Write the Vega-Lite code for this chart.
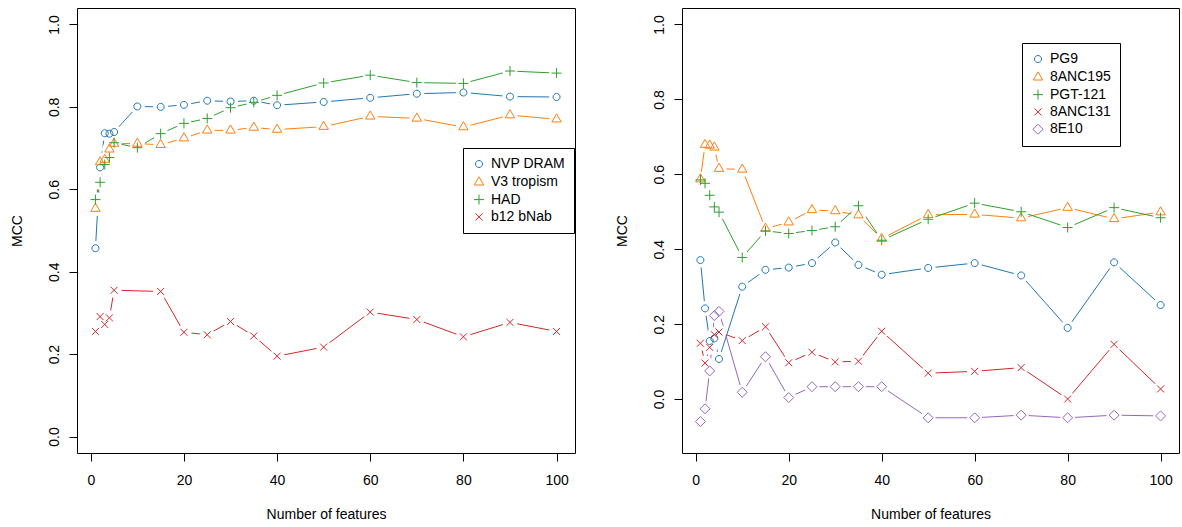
{
  "$schema": "https://vega.github.io/schema/vega-lite/v6.json",
  "padding": {"left": 9, "top": 7, "right": 2, "bottom": 0},
  "background": "white",
  "config": {
    "font": "Liberation Sans",
    "view": {"stroke": "black", "strokeWidth": 1},
    "axis": {
      "domain": false, "grid": false, "ticks": true, "tickColor": "black", "tickSize": 8, "tickWidth": 1,
      "labelColor": "black", "labelFontSize": 14, "labelFont": "Liberation Sans",
      "titleColor": "black", "titleFontSize": 14, "titleFontWeight": "normal", "titleFont": "Liberation Sans"
    },
    "legend": {
      "orient": "none", "strokeColor": "black", "strokeWidth": 1, "fillColor": "white", "padding": 9,
      "labelFontSize": 14, "labelFont": "Liberation Sans", "labelColor": "black", "symbolSize": 100,
      "symbolStrokeWidth": 1, "rowPadding": 3.3, "labelOffset": 5, "cornerRadius": 0
    }
  },
  "datasets": {
    "left": [
      {"series": "NVP DRAM", "features": 1, "mcc": 0.457}, {"series": "NVP DRAM", "features": 2, "mcc": 0.653}, {"series": "NVP DRAM", "features": 3, "mcc": 0.736}, {"series": "NVP DRAM", "features": 4, "mcc": 0.735}, {"series": "NVP DRAM", "features": 5, "mcc": 0.739}, {"series": "NVP DRAM", "features": 10, "mcc": 0.801}, {"series": "NVP DRAM", "features": 15, "mcc": 0.800}, {"series": "NVP DRAM", "features": 20, "mcc": 0.805}, {"series": "NVP DRAM", "features": 25, "mcc": 0.815}, {"series": "NVP DRAM", "features": 30, "mcc": 0.813}, {"series": "NVP DRAM", "features": 35, "mcc": 0.815}, {"series": "NVP DRAM", "features": 40, "mcc": 0.804}, {"series": "NVP DRAM", "features": 50, "mcc": 0.812}, {"series": "NVP DRAM", "features": 60, "mcc": 0.822}, {"series": "NVP DRAM", "features": 70, "mcc": 0.832}, {"series": "NVP DRAM", "features": 80, "mcc": 0.835}, {"series": "NVP DRAM", "features": 90, "mcc": 0.825}, {"series": "NVP DRAM", "features": 100, "mcc": 0.824},
      {"series": "V3 tropism", "features": 1, "mcc": 0.553}, {"series": "V3 tropism", "features": 2, "mcc": 0.666}, {"series": "V3 tropism", "features": 3, "mcc": 0.672}, {"series": "V3 tropism", "features": 4, "mcc": 0.697}, {"series": "V3 tropism", "features": 5, "mcc": 0.711}, {"series": "V3 tropism", "features": 10, "mcc": 0.711}, {"series": "V3 tropism", "features": 15, "mcc": 0.708}, {"series": "V3 tropism", "features": 20, "mcc": 0.724}, {"series": "V3 tropism", "features": 25, "mcc": 0.743}, {"series": "V3 tropism", "features": 30, "mcc": 0.743}, {"series": "V3 tropism", "features": 35, "mcc": 0.750}, {"series": "V3 tropism", "features": 40, "mcc": 0.745}, {"series": "V3 tropism", "features": 50, "mcc": 0.752}, {"series": "V3 tropism", "features": 60, "mcc": 0.777}, {"series": "V3 tropism", "features": 70, "mcc": 0.772}, {"series": "V3 tropism", "features": 80, "mcc": 0.751}, {"series": "V3 tropism", "features": 90, "mcc": 0.780}, {"series": "V3 tropism", "features": 100, "mcc": 0.770},
      {"series": "HAD", "features": 1, "mcc": 0.575}, {"series": "HAD", "features": 2, "mcc": 0.617}, {"series": "HAD", "features": 3, "mcc": 0.660}, {"series": "HAD", "features": 4, "mcc": 0.677}, {"series": "HAD", "features": 5, "mcc": 0.713}, {"series": "HAD", "features": 10, "mcc": 0.701}, {"series": "HAD", "features": 15, "mcc": 0.735}, {"series": "HAD", "features": 20, "mcc": 0.760}, {"series": "HAD", "features": 25, "mcc": 0.772}, {"series": "HAD", "features": 30, "mcc": 0.798}, {"series": "HAD", "features": 35, "mcc": 0.811}, {"series": "HAD", "features": 40, "mcc": 0.828}, {"series": "HAD", "features": 50, "mcc": 0.858}, {"series": "HAD", "features": 60, "mcc": 0.877}, {"series": "HAD", "features": 70, "mcc": 0.859}, {"series": "HAD", "features": 80, "mcc": 0.857}, {"series": "HAD", "features": 90, "mcc": 0.887}, {"series": "HAD", "features": 100, "mcc": 0.882},
      {"series": "b12 bNab", "features": 1, "mcc": 0.255}, {"series": "b12 bNab", "features": 2, "mcc": 0.291}, {"series": "b12 bNab", "features": 3, "mcc": 0.272}, {"series": "b12 bNab", "features": 4, "mcc": 0.288}, {"series": "b12 bNab", "features": 5, "mcc": 0.355}, {"series": "b12 bNab", "features": 15, "mcc": 0.352}, {"series": "b12 bNab", "features": 20, "mcc": 0.253}, {"series": "b12 bNab", "features": 25, "mcc": 0.247}, {"series": "b12 bNab", "features": 30, "mcc": 0.279}, {"series": "b12 bNab", "features": 35, "mcc": 0.244}, {"series": "b12 bNab", "features": 40, "mcc": 0.195}, {"series": "b12 bNab", "features": 50, "mcc": 0.217}, {"series": "b12 bNab", "features": 60, "mcc": 0.302}, {"series": "b12 bNab", "features": 70, "mcc": 0.284}, {"series": "b12 bNab", "features": 80, "mcc": 0.242}, {"series": "b12 bNab", "features": 90, "mcc": 0.277}, {"series": "b12 bNab", "features": 100, "mcc": 0.255}
    ],
    "right": [
      {"series": "PG9", "features": 1, "mcc": 0.371}, {"series": "PG9", "features": 2, "mcc": 0.242}, {"series": "PG9", "features": 3, "mcc": 0.155}, {"series": "PG9", "features": 4, "mcc": 0.162}, {"series": "PG9", "features": 5, "mcc": 0.107}, {"series": "PG9", "features": 10, "mcc": 0.300}, {"series": "PG9", "features": 15, "mcc": 0.345}, {"series": "PG9", "features": 20, "mcc": 0.351}, {"series": "PG9", "features": 25, "mcc": 0.363}, {"series": "PG9", "features": 30, "mcc": 0.418}, {"series": "PG9", "features": 35, "mcc": 0.358}, {"series": "PG9", "features": 40, "mcc": 0.332}, {"series": "PG9", "features": 50, "mcc": 0.350}, {"series": "PG9", "features": 60, "mcc": 0.363}, {"series": "PG9", "features": 70, "mcc": 0.330}, {"series": "PG9", "features": 80, "mcc": 0.190}, {"series": "PG9", "features": 90, "mcc": 0.365}, {"series": "PG9", "features": 100, "mcc": 0.251},
      {"series": "8ANC195", "features": 1, "mcc": 0.587}, {"series": "8ANC195", "features": 2, "mcc": 0.679}, {"series": "8ANC195", "features": 3, "mcc": 0.677}, {"series": "8ANC195", "features": 4, "mcc": 0.672}, {"series": "8ANC195", "features": 5, "mcc": 0.615}, {"series": "8ANC195", "features": 10, "mcc": 0.613}, {"series": "8ANC195", "features": 15, "mcc": 0.455}, {"series": "8ANC195", "features": 20, "mcc": 0.472}, {"series": "8ANC195", "features": 25, "mcc": 0.505}, {"series": "8ANC195", "features": 30, "mcc": 0.502}, {"series": "8ANC195", "features": 35, "mcc": 0.491}, {"series": "8ANC195", "features": 40, "mcc": 0.428}, {"series": "8ANC195", "features": 50, "mcc": 0.492}, {"series": "8ANC195", "features": 60, "mcc": 0.493}, {"series": "8ANC195", "features": 70, "mcc": 0.483}, {"series": "8ANC195", "features": 80, "mcc": 0.511}, {"series": "8ANC195", "features": 90, "mcc": 0.481}, {"series": "8ANC195", "features": 100, "mcc": 0.499},
      {"series": "PGT-121", "features": 1, "mcc": 0.585}, {"series": "PGT-121", "features": 2, "mcc": 0.576}, {"series": "PGT-121", "features": 3, "mcc": 0.544}, {"series": "PGT-121", "features": 4, "mcc": 0.513}, {"series": "PGT-121", "features": 5, "mcc": 0.499}, {"series": "PGT-121", "features": 10, "mcc": 0.378}, {"series": "PGT-121", "features": 15, "mcc": 0.449}, {"series": "PGT-121", "features": 20, "mcc": 0.442}, {"series": "PGT-121", "features": 25, "mcc": 0.450}, {"series": "PGT-121", "features": 30, "mcc": 0.460}, {"series": "PGT-121", "features": 35, "mcc": 0.516}, {"series": "PGT-121", "features": 40, "mcc": 0.424}, {"series": "PGT-121", "features": 50, "mcc": 0.480}, {"series": "PGT-121", "features": 60, "mcc": 0.523}, {"series": "PGT-121", "features": 70, "mcc": 0.500}, {"series": "PGT-121", "features": 80, "mcc": 0.458}, {"series": "PGT-121", "features": 90, "mcc": 0.511}, {"series": "PGT-121", "features": 100, "mcc": 0.484},
      {"series": "8ANC131", "features": 1, "mcc": 0.149}, {"series": "8ANC131", "features": 2, "mcc": 0.096}, {"series": "8ANC131", "features": 3, "mcc": 0.138}, {"series": "8ANC131", "features": 4, "mcc": 0.172}, {"series": "8ANC131", "features": 5, "mcc": 0.179}, {"series": "8ANC131", "features": 10, "mcc": 0.156}, {"series": "8ANC131", "features": 15, "mcc": 0.193}, {"series": "8ANC131", "features": 20, "mcc": 0.097}, {"series": "8ANC131", "features": 25, "mcc": 0.125}, {"series": "8ANC131", "features": 30, "mcc": 0.099}, {"series": "8ANC131", "features": 35, "mcc": 0.101}, {"series": "8ANC131", "features": 40, "mcc": 0.181}, {"series": "8ANC131", "features": 50, "mcc": 0.069}, {"series": "8ANC131", "features": 60, "mcc": 0.074}, {"series": "8ANC131", "features": 70, "mcc": 0.084}, {"series": "8ANC131", "features": 80, "mcc": 0.000}, {"series": "8ANC131", "features": 90, "mcc": 0.146}, {"series": "8ANC131", "features": 100, "mcc": 0.027},
      {"series": "8E10", "features": 1, "mcc": -0.060}, {"series": "8E10", "features": 2, "mcc": -0.026}, {"series": "8E10", "features": 3, "mcc": 0.075}, {"series": "8E10", "features": 4, "mcc": 0.223}, {"series": "8E10", "features": 5, "mcc": 0.234}, {"series": "8E10", "features": 10, "mcc": 0.018}, {"series": "8E10", "features": 15, "mcc": 0.113}, {"series": "8E10", "features": 20, "mcc": 0.004}, {"series": "8E10", "features": 25, "mcc": 0.033}, {"series": "8E10", "features": 30, "mcc": 0.033}, {"series": "8E10", "features": 35, "mcc": 0.033}, {"series": "8E10", "features": 40, "mcc": 0.033}, {"series": "8E10", "features": 50, "mcc": -0.050}, {"series": "8E10", "features": 60, "mcc": -0.050}, {"series": "8E10", "features": 70, "mcc": -0.043}, {"series": "8E10", "features": 80, "mcc": -0.050}, {"series": "8E10", "features": 90, "mcc": -0.043}, {"series": "8E10", "features": 100, "mcc": -0.045}
    ]
  },
  "spacing": 107,
  "bounds": "flush",
  "resolve": {"scale": {"color": "independent", "shape": "independent", "x": "independent", "y": "independent"}, "legend": {"color": "independent", "shape": "independent"}},
  "hconcat": [
    {
      "width": 498, "height": 445,
      "data": {"name": "left"},
      "encoding": {
        "x": {"field": "features", "type": "quantitative", "scale": {"domain": [-2.96, 103.96], "nice": false, "zero": false},
          "axis": {"values": [0, 20, 40, 60, 80, 100], "title": "Number of features", "labelBaseline": "alphabetic", "labelPadding": 23, "titleBaseline": "alphabetic", "titlePadding": 31}},
        "y": {"field": "mcc", "type": "quantitative", "scale": {"domain": [-0.04, 1.04], "nice": false, "zero": false},
          "axis": {"values": [0, 0.2, 0.4, 0.6, 0.8, 1], "format": ".1f", "title": "MCC", "labelAngle": 270, "labelAlign": "center", "labelBaseline": "alphabetic", "labelPadding": 11, "titleBaseline": "alphabetic", "titlePadding": 26}}
      },
      "layer": [
        {"mark": {"type": "line", "strokeWidth": 1},
          "encoding": {"color": {"field": "series", "type": "nominal", "scale": {"domain": ["NVP DRAM", "V3 tropism", "HAD", "b12 bNab"], "range": ["#1f77b4", "#ff7f0e", "#2ca02c", "#d62728"]}, "legend": {"title": null, "legendX": 386, "legendY": 140}}}},
        {"mark": {"type": "circle", "color": "white", "opacity": 1, "size": 225}},
        {"mark": {"type": "point", "filled": false, "strokeWidth": 1, "size": 100, "opacity": 1},
          "encoding": {
            "color": {"field": "series", "type": "nominal", "scale": {"domain": ["NVP DRAM", "V3 tropism", "HAD", "b12 bNab"], "range": ["#1f77b4", "#ff7f0e", "#2ca02c", "#d62728"]}, "legend": {"title": null, "legendX": 386, "legendY": 140}},
            "shape": {"field": "series", "type": "nominal", "scale": {"domain": ["NVP DRAM", "V3 tropism", "HAD", "b12 bNab"], "range": ["M0.7,0A0.7,0.7,0,1,1,-0.7,0A0.7,0.7,0,1,1,0.7,0Z", "M0,-1.09L0.94,0.54L-0.94,0.54Z", "M-1,0L1,0M0,-1L0,1", "M-0.7,-0.7L0.7,0.7M-0.7,0.7L0.7,-0.7"]}, "legend": {"title": null, "legendX": 386, "legendY": 140}}
          }}
      ]
    },
    {
      "width": 497, "height": 445,
      "data": {"name": "right"},
      "encoding": {
        "x": {"field": "features", "type": "quantitative", "scale": {"domain": [-2.96, 103.96], "nice": false, "zero": false},
          "axis": {"values": [0, 20, 40, 60, 80, 100], "title": "Number of features", "labelBaseline": "alphabetic", "labelPadding": 23, "titleBaseline": "alphabetic", "titlePadding": 31}},
        "y": {"field": "mcc", "type": "quantitative", "scale": {"domain": [-0.144, 1.044], "nice": false, "zero": false},
          "axis": {"values": [0, 0.2, 0.4, 0.6, 0.8, 1], "format": ".1f", "title": "MCC", "labelAngle": 270, "labelAlign": "center", "labelBaseline": "alphabetic", "labelPadding": 11, "titleBaseline": "alphabetic", "titlePadding": 26}}
      },
      "layer": [
        {"mark": {"type": "line", "strokeWidth": 1},
          "encoding": {"color": {"field": "series", "type": "nominal", "scale": {"domain": ["PG9", "8ANC195", "PGT-121", "8ANC131", "8E10"], "range": ["#1f77b4", "#ff7f0e", "#2ca02c", "#d62728", "#9467bd"]}, "legend": {"title": null, "legendX": 340, "legendY": 35}}}},
        {"mark": {"type": "circle", "color": "white", "opacity": 1, "size": 225}},
        {"mark": {"type": "point", "filled": false, "strokeWidth": 1, "size": 100, "opacity": 1},
          "encoding": {
            "color": {"field": "series", "type": "nominal", "scale": {"domain": ["PG9", "8ANC195", "PGT-121", "8ANC131", "8E10"], "range": ["#1f77b4", "#ff7f0e", "#2ca02c", "#d62728", "#9467bd"]}, "legend": {"title": null, "legendX": 340, "legendY": 35}},
            "shape": {"field": "series", "type": "nominal", "scale": {"domain": ["PG9", "8ANC195", "PGT-121", "8ANC131", "8E10"], "range": ["M0.7,0A0.7,0.7,0,1,1,-0.7,0A0.7,0.7,0,1,1,0.7,0Z", "M0,-1.09L0.94,0.54L-0.94,0.54Z", "M-1,0L1,0M0,-1L0,1", "M-0.7,-0.7L0.7,0.7M-0.7,0.7L0.7,-0.7", "M0,-1L1,0L0,1L-1,0Z"]}, "legend": {"title": null, "legendX": 340, "legendY": 35}}
          }}
      ]
    }
  ]
}
